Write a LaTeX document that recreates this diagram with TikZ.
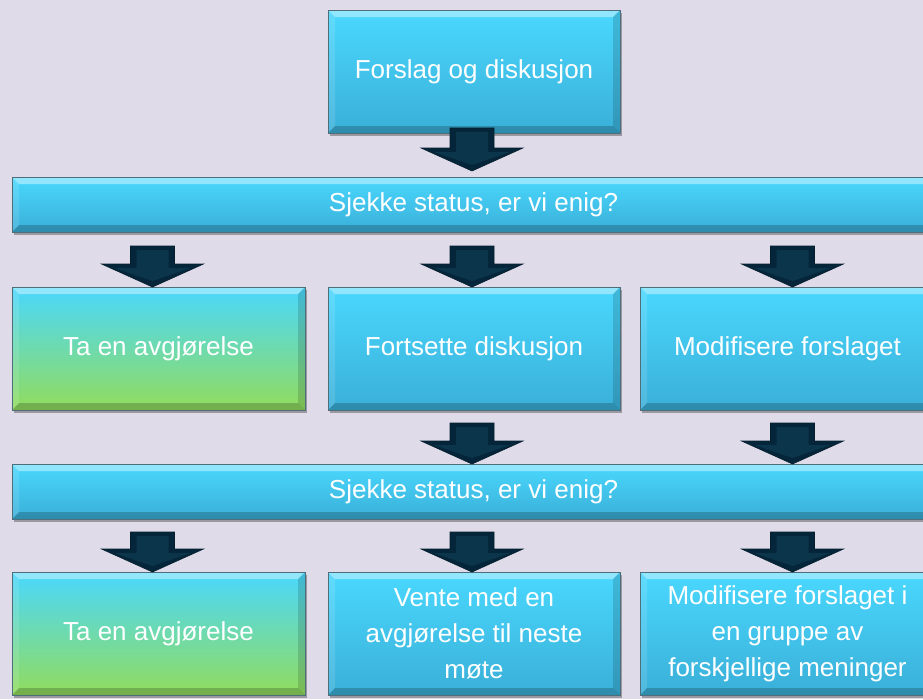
\documentclass[tikz,border=0pt]{standalone}
\usepackage{fontspec}
\setmainfont{Liberation Sans}
\usetikzlibrary{calc,shadows}
\definecolor{bgc}{HTML}{E0DBE9}
\definecolor{cyTop}{HTML}{4AD8FE}
\definecolor{cyBot}{HTML}{3AAFD8}
\definecolor{grMid}{HTML}{6AD6BC}
\definecolor{grBot}{HTML}{92DC5C}
\definecolor{edgec}{HTML}{4E6E7C}
\definecolor{arrOut}{HTML}{05263A}
\definecolor{arrIn}{HTML}{0B354A}
\tikzset{
  bevel/.style={
    path picture={
      \coordinate (nw) at (path picture bounding box.north west);
      \coordinate (ne) at (path picture bounding box.north east);
      \coordinate (sw) at (path picture bounding box.south west);
      \coordinate (se) at (path picture bounding box.south east);
      \fill[white,opacity=0.4] (nw) -- (ne) -- ($(ne)+(-7pt,-7pt)$) -- ($(nw)+(7pt,-7pt)$) -- cycle;
      \fill[white,opacity=0.12] (nw) -- ($(nw)+(7pt,-7pt)$) -- ($(sw)+(7pt,7pt)$) -- (sw) -- cycle;
      \fill[black,opacity=0.14] (ne) -- ($(ne)+(-7pt,-7pt)$) -- ($(se)+(-7pt,7pt)$) -- (se) -- cycle;
      \fill[black,opacity=0.2] (sw) -- ($(sw)+(7pt,7pt)$) -- ($(se)+(-7pt,7pt)$) -- (se) -- cycle;
    }},
  boxbase/.style={rectangle, inner sep=0pt, outer sep=0pt, draw=edgec, line width=0.8pt,
    text=white, align=center, font=\fontsize{26}{36}\selectfont, bevel,
    drop shadow={shadow xshift=2pt, shadow yshift=-3pt, fill=black, opacity=0.3}},
  bluebox/.style={boxbase, top color=cyTop, bottom color=cyBot},
  greenbox/.style={boxbase, top color=cyTop, middle color=grMid, bottom color=grBot},
}
\newcommand\darrow[2]{%
  \path #1 coordinate (as) #2 coordinate (at);
  \fill[arrOut, draw=arrOut!80!black, line width=0.6pt]
    ($(as)+(-22pt,0pt)$) -- ($(as)+(22pt,0pt)$) -- ($(at)+(22pt,23pt)$) --
    ($(at)+(51pt,23pt)$) -- (at) -- ($(at)+(-51pt,23pt)$) -- ($(at)+(-22pt,23pt)$) -- cycle;
  \fill[arrIn]
    ($(as)+(-16pt,-4pt)$) -- ($(as)+(16pt,-4pt)$) -- ($(at)+(16pt,19pt)$) --
    ($(at)+(38pt,19pt)$) -- ($(at)+(0pt,6pt)$) -- ($(at)+(-38pt,19pt)$) -- ($(at)+(-16pt,19pt)$) -- cycle;
}
\begin{document}
\begin{tikzpicture}[x=1pt,y=-1pt]
\fill[bgc] (0,0) rectangle (923,699);
\useasboundingbox (0,0) rectangle (923,699);
\clip (0,0) rectangle (923,699);

\node[bluebox, minimum width=292pt, minimum height=123pt] (top) at (474,71.5) {Forslag og diskusjon};
\node[bluebox, minimum width=923pt, minimum height=55pt] (bar1) at (473.5,204.5) {Sjekke status, er vi enig?};
\node[greenbox, minimum width=293pt, minimum height=123pt] (b1) at (158.5,348.5) {Ta en avgjørelse};
\node[bluebox, minimum width=292pt, minimum height=123pt] (b2) at (474,348.5) {Fortsette diskusjon};
\node[bluebox, minimum width=295pt, minimum height=123pt] (b3) at (787.5,348.5) {Modifisere forslaget};
\node[bluebox, minimum width=923pt, minimum height=55pt] (bar2) at (473.5,491.5) {Sjekke status, er vi enig?};
\node[greenbox, minimum width=293pt, minimum height=123pt] (c1) at (158.5,633.5) {Ta en avgjørelse};
\node[bluebox, minimum width=292pt, minimum height=123pt] (c2) at (474,633.5) {Vente med en\\avgjørelse til neste\\møte};
\node[bluebox, minimum width=295pt, minimum height=123pt] (c3) at (787.5,633.5) {Modifisere forslaget i\\en gruppe av\\forskjellige meninger};

\darrow{($(top.south)+(-2pt,5pt)$)}{($(bar1.north -| top.south)+(-2pt,6pt)$)}
\darrow{($(bar1.south -| b1.north)+(-6pt,-14pt)$)}{($(b1.north)+(-6pt,0pt)$)}
\darrow{($(bar1.south -| b2.north)+(-2pt,-14pt)$)}{($(b2.north)+(-2pt,0pt)$)}
\darrow{($(bar1.south -| b3.north)+(5pt,-14pt)$)}{($(b3.north)+(5pt,0pt)$)}
\darrow{($(b2.south)+(-2pt,-13pt)$)}{($(bar2.north -| b2.south)+(-2pt,0pt)$)}
\darrow{($(b3.south)+(5pt,-13pt)$)}{($(bar2.north -| b3.south)+(5pt,0pt)$)}
\darrow{($(bar2.south -| c1.north)+(-6pt,-13pt)$)}{($(c1.north)+(-6pt,0pt)$)}
\darrow{($(bar2.south -| c2.north)+(-2pt,-13pt)$)}{($(c2.north)+(-2pt,0pt)$)}
\darrow{($(bar2.south -| c3.north)+(5pt,-13pt)$)}{($(c3.north)+(5pt,0pt)$)}
\end{tikzpicture}
\end{document}
